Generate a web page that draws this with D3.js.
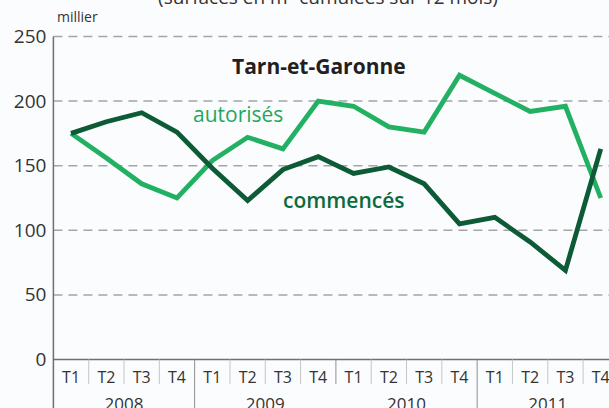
<!DOCTYPE html>
<html lang="fr">
<head>
  <meta charset="utf-8">
  <title>Tarn-et-Garonne</title>
  <script src="https://d3js.org/d3.v7.min.js"></script>
  <style>
    body { margin: 0; background: #fbfcfd; }
    svg { display: block; font-family: "Open Sans", sans-serif; }
  </style>
</head>
<body>
  <script>
  var years = ["2008", "2009", "2010", "2011"];
  var quarters = ["T1", "T2", "T3", "T4"];
  var yTicks = [0, 50, 100, 150, 200, 250];
  // milliers de m2, cumul sur 12 mois
  var autorises = [175, 156, 136, 125, 154, 172, 163, 200, 196, 180, 176, 220, 206, 192, 196, 125];
  var commences = [175, 184, 191, 176, 148, 123, 147, 157, 144, 149, 136, 105, 110, 91, 69, 163];

  var w = 609, h = 408;
  var categories = [];
  years.forEach(function(yr) {
    quarters.forEach(function(q) { categories.push(yr + "-" + q); });
  });

  var svg = d3.select("body").append("svg")
      .attr("width", w)
      .attr("height", h);

  var x = d3.scaleBand()
    .domain(categories)
    .range([53.4, 618.4]);
  var y = d3.scaleLinear()
    .domain([0, 250])
    .range([359.5, 36.5]);
  var bw = x.bandwidth();

  // titre coupé en haut
  svg.append("text")
    .attr("x", 328).attr("y", 4)
    .attr("text-anchor", "middle")
    .style("font-size", "19px").style("fill", "#333")
    .text("(surfaces en m² cumulées sur 12 mois)");

  svg.append("text")
    .attr("x", 57).attr("y", 22)
    .style("font-size", "14px").style("fill", "#333")
    .text("millier");

  // grille pointillée
  svg.append("g").selectAll("line")
    .data(yTicks.filter(function(d) { return d > 0; }))
    .join("line")
      .attr("x1", x.range()[0]).attr("x2", w)
      .attr("y1", function(d) { return y(d); })
      .attr("y2", function(d) { return y(d); })
      .style("stroke", "#a3a5a7")
      .style("stroke-width", 1.5)
      .style("stroke-dasharray", "9,6");

  // axe y
  var yAxis = svg.append("g")
    .attr("transform", "translate(" + x.range()[0] + ",0)")
    .call(d3.axisLeft(y).tickValues(yTicks).tickSize(0).tickPadding(7));
  yAxis.select(".domain").remove();
  yAxis.selectAll("text")
    .style("font-family", "Open Sans, sans-serif")
    .style("font-size", "19px")
    .style("fill", "#333");

  svg.append("line")
    .attr("x1", x.range()[0]).attr("x2", x.range()[0])
    .attr("y1", y(250)).attr("y2", h)
    .style("stroke", "#6d6f71").style("stroke-width", 1.5);
  svg.append("line")
    .attr("x1", x.range()[0]).attr("x2", w)
    .attr("y1", y(0)).attr("y2", y(0))
    .style("stroke", "#6d6f71").style("stroke-width", 1.5);

  // axe x : trimestres et années
  svg.append("g").selectAll("line")
    .data(categories.slice(1))
    .join("line")
      .attr("x1", function(d) { return x(d); })
      .attr("x2", function(d) { return x(d); })
      .attr("y1", y(0))
      .attr("y2", function(d) {
        var q = d.split("-")[1];
        if (q !== "T1") return 384;
        return d === "2010-T1" ? 384 : h;
      })
      .style("stroke", function(d) { return d.split("-")[1] === "T1" ? "#8d8f91" : "#c4c6c8"; })
      .style("stroke-width", 1);

  svg.append("g").selectAll("text")
    .data(categories)
    .join("text")
      .attr("x", function(d) { return x(d) + bw / 2; })
      .attr("y", 383)
      .attr("text-anchor", "middle")
      .style("font-size", "16px").style("fill", "#333")
      .text(function(d) { return d.split("-")[1]; });

  svg.append("g").selectAll("text")
    .data(years)
    .join("text")
      .attr("x", function(d) { return x(d + "-T1") + bw * 2; })
      .attr("y", 410)
      .attr("text-anchor", "middle")
      .style("font-size", "17px").style("fill", "#333")
      .text(function(d) { return d; });

  // courbes
  var line = d3.line()
    .x(function(d, i) { return x(categories[i]) + bw / 2; })
    .y(function(d) { return y(d); });

  svg.append("path")
    .datum(autorises)
    .style("fill", "none")
    .style("stroke", "#22b163")
    .style("stroke-width", 4.8)
    .style("stroke-linejoin", "miter")
    .attr("d", line);

  svg.append("path")
    .datum(commences)
    .style("fill", "none")
    .style("stroke", "#0c5b36")
    .style("stroke-width", 4.8)
    .style("stroke-linejoin", "miter")
    .attr("d", line);

  svg.append("text")
    .attr("x", 232).attr("y", 74)
    .style("font-size", "21px").style("font-weight", "bold").style("fill", "#231f20")
    .text("Tarn-et-Garonne");
  svg.append("text")
    .attr("x", 193).attr("y", 122)
    .style("font-size", "21px").style("fill", "#1ea85e")
    .text("autorisés");
  svg.append("text")
    .attr("x", 283).attr("y", 208)
    .style("font-size", "21px").style("font-weight", 600).style("fill", "#0d6a3e")
    .text("commencés");
  </script>
</body>
</html>
